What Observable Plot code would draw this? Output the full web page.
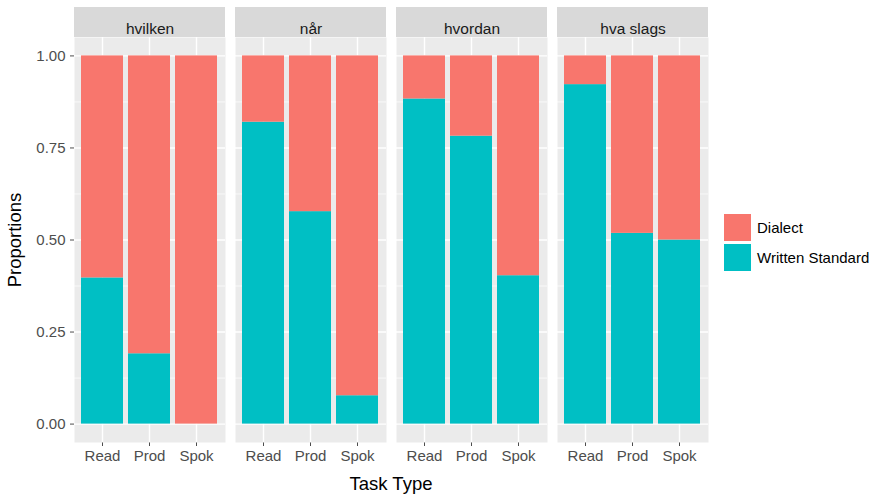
<!DOCTYPE html>
<html>
<head>
<meta charset="utf-8">
<script src="https://cdn.jsdelivr.net/npm/d3@7"></script>
<script src="https://cdn.jsdelivr.net/npm/@observablehq/plot@0.6"></script>
<style>
  body { margin: 0; background: white; }
  #wrap { position: relative; width: 876px; height: 495px; font-family: "Liberation Sans", Arial, Helvetica, sans-serif; }
  .title { position: absolute; color: #000; font-size: 18.5px; white-space: nowrap; }
  .leg { position: absolute; font-size: 15px; color: #000; white-space: nowrap; }
  .key { position: absolute; width: 27px; height: 27px; }
</style>
</head>
<body>
<div id="wrap"></div>
<script>
const facets = ["hvilken", "når", "hvordan", "hva slags"];
const tasks = ["Read", "Prod", "Spok"];
const series = ["Dialect", "Written Standard"];
const colors = ["#F8766D", "#00BFC4"];
// proportions per facet, in task order Read, Prod, Spok
const writtenStandard = {
  "hvilken":   [0.397, 0.191, 0.000],
  "når":       [0.820, 0.577, 0.077],
  "hvordan":   [0.883, 0.782, 0.403],
  "hva slags": [0.922, 0.518, 0.500]
};
const dialect = {
  "hvilken":   [0.603, 0.809, 1.000],
  "når":       [0.180, 0.423, 0.923],
  "hvordan":   [0.117, 0.218, 0.597],
  "hva slags": [0.078, 0.482, 0.500]
};
const yTicks = [0, 0.25, 0.5, 0.75, 1];
const yMinor = [0.125, 0.375, 0.625, 0.875];

const rows = [];
for (const f of facets) tasks.forEach((t, i) => rows.push({facet: f, task: t, type: "Written Standard", value: writtenStandard[f][i]}));
for (const f of facets) tasks.forEach((t, i) => rows.push({facet: f, task: t, type: "Dialect", value: dialect[f][i]}));

const W = 876, H = 495, mTop = 37, mBottom = 53, mLeft = 73, mRight = 166;
const yDomain = [-0.05, 1.05];
const stripUnits = 30 * (yDomain[1] - yDomain[0]) / (H - mTop - mBottom);

const chart = Plot.plot({
  width: W, height: H,
  marginTop: mTop, marginBottom: mBottom, marginLeft: mLeft, marginRight: mRight,
  style: {fontFamily: "Liberation Sans, Arial, Helvetica, sans-serif", fontSize: "15px", color: "#4D4D4D", background: "white"},
  fx: {domain: facets, paddingInner: 0.06, paddingOuter: 0, axis: null, label: null},
  x: {domain: tasks, paddingInner: 0.1, paddingOuter: 0.15, tickSize: 4, tickPadding: 4, label: null},
  y: {domain: yDomain, ticks: yTicks, tickFormat: d3.format(".2f"), tickSize: 4, tickPadding: 5, label: null},
  color: {domain: series, range: colors},
  marks: [
    Plot.frame({fill: "#EBEBEB", stroke: "none"}),
    Plot.rect(facets, {fx: d => d, y1: () => yDomain[1], y2: () => yDomain[1] + stripUnits, fill: "#D9D9D9"}),
    Plot.text(facets, {fx: d => d, text: d => d, frameAnchor: "top", dy: -15, fill: "#1A1A1A", fontSize: 15.5}),
    Plot.ruleY(yMinor, {y: d => d, stroke: "white", strokeWidth: 0.7}),
    Plot.ruleY(yTicks, {y: d => d, stroke: "white", strokeWidth: 1.4}),
    Plot.ruleX(tasks, {x: d => d, stroke: "white", strokeWidth: 1.4}),
    Plot.barY(rows, {fx: "facet", x: "task", y: "value", fill: "type"})
  ]
});

const wrap = document.getElementById("wrap");
wrap.appendChild(chart);

function addDiv(cls, text, css) {
  const d = document.createElement("div");
  d.className = cls;
  if (text) d.textContent = text;
  Object.assign(d.style, css);
  wrap.appendChild(d);
  return d;
}
addDiv("title", "Task Type", {left: "391px", top: "473px", transform: "translateX(-50%)"});
addDiv("title", "Proportions", {left: "15px", top: "240px", transform: "translate(-50%,-50%) rotate(-90deg)"});
series.forEach((s, i) => {
  addDiv("key", "", {left: "724px", top: (214 + i * 30) + "px", background: colors[i]});
  addDiv("leg", s, {left: "757px", top: (219 + i * 30) + "px"});
});
</script>
</body>
</html>
